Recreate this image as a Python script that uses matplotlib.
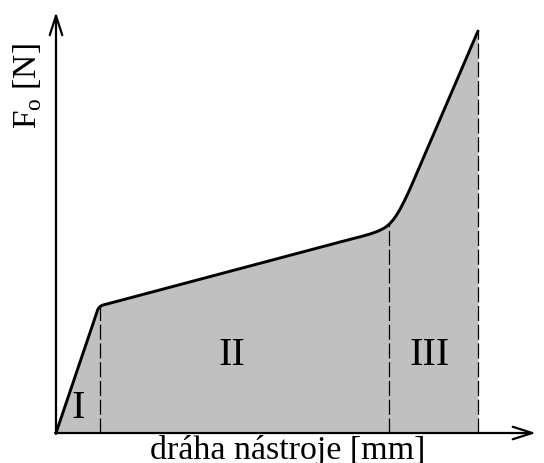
import numpy as np
import matplotlib
matplotlib.use("Agg")
import matplotlib.pyplot as plt

plt.rcParams['font.family'] = ['Liberation Serif', 'DejaVu Serif']
plt.rcParams['mathtext.fontset'] = 'custom'
plt.rcParams['mathtext.rm'] = 'Liberation Serif'

# force curve F_o vs tool path (schematic, arbitrary units)
PATH_X = [0.0, 0.995, 1.043, 1.114, 1.209, 6.730, 6.967, 7.204, 7.441, 7.630,
          7.773, 7.844, 7.915, 7.986, 8.057, 8.152, 8.246, 8.341, 8.436, 10.0]
FORCE_Y = [0.0, 3.085, 3.147, 3.184, 3.209, 4.751, 4.816, 4.880, 4.950, 5.020,
           5.095, 5.147, 5.214, 5.299, 5.400, 5.565, 5.754, 5.963, 6.186, 10.0]

# region boundaries and labels
BOUNDS = [1.043, 7.891, 10.0]
REGION_LABELS = ['I', 'II', 'III']
REGION_POS = [(0.52, 0.62), (4.17, 1.94), (8.86, 1.94)]

fig = plt.figure(figsize=(5.44, 4.63), dpi=100)
ax = fig.add_axes([0, 0, 1, 1])
ax.set_xlim(-1.327, 11.564)
ax.set_ylim(-0.746, 10.771)
ax.axis('off')

ax.fill_between(PATH_X, FORCE_Y, 0, color='#c0c0c0', lw=0)
ax.plot(PATH_X, FORCE_Y, color='black', lw=2.1, solid_capstyle='round',
        solid_joinstyle='round')

for b in BOUNDS:
    top = np.interp(b, PATH_X, FORCE_Y)
    ax.plot([b, b], [0, top], color='black', lw=0.9, dashes=(12, 3))

for lab, (x, y) in zip(REGION_LABELS, REGION_POS):
    ax.text(x, y, lab, fontsize=29, ha='center', va='center')

# axes arrows
arrow = dict(arrowstyle='->,head_length=1.4,head_width=0.45', lw=1.6, color='black',
             shrinkA=0, shrinkB=0)
ax.annotate('', xy=(0, 10.47), xytext=(0, -0.02), arrowprops=arrow)
ax.annotate('', xy=(11.37, 0), xytext=(-0.02, 0), arrowprops=arrow)

ax.text(5.50, -0.44, 'dráha nástroje [mm]', fontsize=24.5, ha='center', va='center')
ax.text(-0.66, 8.62, r'F$_\mathrm{o}$ [N]', fontsize=24, ha='center', va='center',
        rotation=90)

fig.savefig('out.png', dpi=100)
